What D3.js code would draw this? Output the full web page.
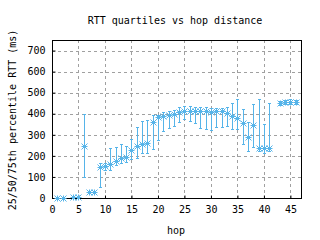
<!DOCTYPE html>
<html>
<head>
<meta charset="utf-8">
<script src="https://cdn.jsdelivr.net/npm/d3@7"></script>
<style>
  body { margin: 0; background: #fff; }
  svg text { font-family: "DejaVu Sans Mono", monospace; font-size: 10px; fill: #000; }
</style>
</head>
<body>
<div id="chart"></div>
<script>
(function() {
  'use strict';

  // hop distance (hops 3 and 42 have no data)
  var hops = [1, 2, 4, 5, 6, 7, 8, 9, 10, 11, 12, 13, 14, 15, 16, 17, 18, 19, 20, 21, 22, 23, 24,
    25, 26, 27, 28, 29, 30, 31, 32, 33, 34, 35, 36, 37, 38, 39, 40, 41, 43, 44, 45, 46];
  // 50th percentile RTT (ms)
  var median = [0, 0, 4, 4, 248, 28, 30, 146, 150, 160, 177, 190, 195, 228, 247, 258, 260, 360, 385,
    390, 395, 400, 408, 412, 412, 412, 412, 412, 410, 412, 412, 402, 389, 382, 355, 288, 345,
    236, 236, 236, 450, 455, 458, 455];
  // 25th percentile RTT (ms)
  var q1 = [0, 0, 2, 2, 100, 25, 27, 50, 135, 133, 157, 165, 172, 184, 190, 212, 215, 233, 273,
    320, 330, 342, 360, 375, 367, 355, 334, 328, 323, 336, 336, 340, 326, 328, 254, 225, 241,
    222, 213, 222, 440, 445, 445, 445];
  // 75th percentile RTT (ms)
  var q3 = [2, 2, 8, 8, 400, 32, 34, 165, 165, 236, 241, 255, 249, 282, 339, 364, 368, 394, 396,
    408, 412, 420, 430, 437, 437, 434, 434, 434, 426, 426, 426, 431, 450, 469, 421, 363, 446,
    469, 350, 450, 462, 466, 468, 464];

  var xTicks = [0, 5, 10, 15, 20, 25, 30, 35, 40, 45];
  var yTicks = [0, 100, 200, 300, 400, 500, 600, 700];

  var data = hops.map(function(h, i) {
    return { hop: h, med: median[i], lo: q1[i], hi: q3[i] };
  });

  var width = 320, height = 240;
  var left = 52, right = 301, top = 40, bottom = 198;
  var color = '#56B4E9';

  var x = d3.scaleLinear().domain([0, 47]).range([left, right]);
  var y = d3.scaleLinear().domain([0, 750]).range([bottom, top]);

  var svg = d3.select('#chart').append('svg')
    .attr('width', width)
    .attr('height', height)
    .style('display', 'block');

  // Grid
  var grid = svg.append('g')
    .attr('stroke', '#a0a0a0')
    .attr('stroke-width', 1)
    .attr('stroke-dasharray', '3,3')
    .attr('shape-rendering', 'crispEdges');
  grid.selectAll('.gx').data(xTicks.filter(function(d) { return d > 0; }))
    .join('line')
    .attr('x1', function(d) { return Math.round(x(d)) + 0.5; })
    .attr('x2', function(d) { return Math.round(x(d)) + 0.5; })
    .attr('y1', top).attr('y2', bottom);
  grid.selectAll('.gy').data(yTicks.filter(function(d) { return d > 0; }))
    .join('line')
    .attr('y1', function(d) { return Math.round(y(d)) + 0.5; })
    .attr('y2', function(d) { return Math.round(y(d)) + 0.5; })
    .attr('x1', left).attr('x2', right);

  // Axes
  var xAxis = svg.append('g')
    .attr('transform', 'translate(0,' + (bottom + 0.5) + ')')
    .call(d3.axisBottom(x).tickValues(xTicks).tickSizeInner(-3).tickSizeOuter(0).tickPadding(7));
  var yAxis = svg.append('g')
    .attr('transform', 'translate(' + (left + 0.5) + ',0)')
    .call(d3.axisLeft(y).tickValues(yTicks).tickSizeInner(-3).tickSizeOuter(0).tickPadding(7));
  [xAxis, yAxis].forEach(function(a) {
    a.select('.domain').remove();
    a.selectAll('line').attr('stroke', '#000');
    a.selectAll('text').attr('font-family', null).attr('font-size', null).attr('fill', '#000');
  });

  // Border
  svg.append('rect')
    .attr('x', left + 0.5).attr('y', top + 0.5)
    .attr('width', right - left).attr('height', bottom - top)
    .attr('fill', 'none').attr('stroke', '#000').attr('stroke-width', 1)
    .attr('shape-rendering', 'crispEdges');

  // Error bars
  var bars = svg.append('g')
    .attr('stroke', color)
    .attr('stroke-width', 1)
    .attr('shape-rendering', 'crispEdges');
  var bar = bars.selectAll('g').data(data).join('g');
  bar.append('line')
    .attr('x1', function(d) { return Math.round(x(d.hop)) + 0.5; })
    .attr('x2', function(d) { return Math.round(x(d.hop)) + 0.5; })
    .attr('y1', function(d) { return y(d.lo); })
    .attr('y2', function(d) { return y(d.hi); });
  bar.append('line')
    .attr('x1', function(d) { return Math.round(x(d.hop)) - 1; })
    .attr('x2', function(d) { return Math.round(x(d.hop)) + 2; })
    .attr('y1', function(d) { return Math.round(y(d.lo)) + 0.5; })
    .attr('y2', function(d) { return Math.round(y(d.lo)) + 0.5; });
  bar.append('line')
    .attr('x1', function(d) { return Math.round(x(d.hop)) - 1; })
    .attr('x2', function(d) { return Math.round(x(d.hop)) + 2; })
    .attr('y1', function(d) { return Math.round(y(d.hi)) + 0.5; })
    .attr('y2', function(d) { return Math.round(y(d.hi)) + 0.5; });

  // Asterisk markers at the median
  var r = 3;
  var star = 'M' + (-r) + ',0H' + r + 'M0,' + (-r) + 'V' + r +
    'M' + (-r) + ',' + (-r) + 'L' + r + ',' + r + 'M' + (-r) + ',' + r + 'L' + r + ',' + (-r);
  svg.append('g').selectAll('path').data(data).join('path')
    .attr('transform', function(d) {
      return 'translate(' + (Math.round(x(d.hop)) + 0.5) + ',' + (Math.round(y(d.med)) + 0.5) + ')';
    })
    .attr('d', star)
    .attr('fill', 'none')
    .attr('stroke', color)
    .attr('stroke-width', 1);

  // Labels
  svg.append('text')
    .attr('x', 175).attr('y', 24)
    .attr('text-anchor', 'middle')
    .text('RTT quartiles vs hop distance');
  svg.append('text')
    .attr('x', 176).attr('y', 234)
    .attr('text-anchor', 'middle')
    .text('hop');
  svg.append('text')
    .attr('transform', 'translate(16,120) rotate(-90)')
    .attr('text-anchor', 'middle')
    .text('25/50/75th percentile RTT (ms)');
})();
</script>
</body>
</html>
